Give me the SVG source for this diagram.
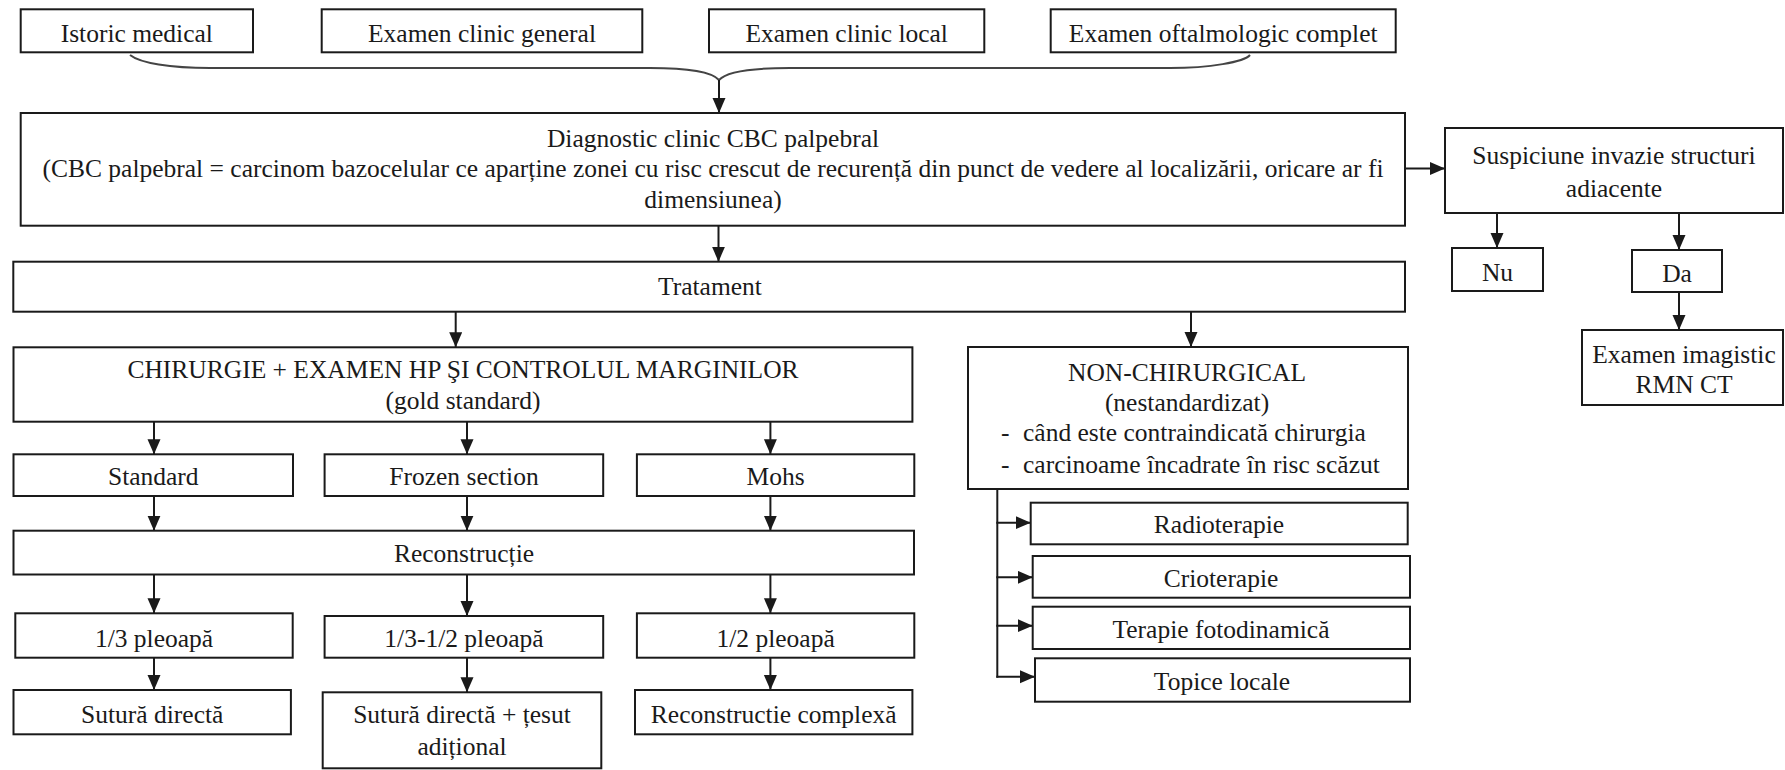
<svg xmlns="http://www.w3.org/2000/svg" width="1785" height="770" viewBox="0 0 1785 770">
<style>
.box{fill:#fff;stroke:#1a1a1a;stroke-width:2}
.t{font-family:"Liberation Serif","Times New Roman",serif;font-size:25.5px;fill:#1a1a1a;text-anchor:middle}
.tl{font-family:"Liberation Serif","Times New Roman",serif;font-size:25.5px;fill:#1a1a1a;text-anchor:start}
.c{stroke:#1a1a1a;stroke-width:2;fill:none}
.a{stroke:#1a1a1a;stroke-width:2;fill:none;marker-end:url(#ah)}
.brace{stroke:#444;stroke-width:2;fill:none}
</style>
<defs>
<marker id="ah" markerUnits="userSpaceOnUse" markerWidth="16" markerHeight="14" refX="15" refY="6.5" orient="auto">
<path d="M0,0 L15,6.5 L0,13 z" fill="#1a1a1a"/>
</marker>
</defs>
<rect x="0" y="0" width="1785" height="770" fill="#fff"/>

<g id="connectors">
<path class="brace" d="M130,55 C140,63 170,68 210,68 L650,68 C690,68 712,72 719,80 C726,72 748,68 790,68 L1170,68 C1210,68 1244,62 1250,55"/>
<line class="a" x1="719" y1="80" x2="719" y2="113"/>
<line class="a" x1="1405" y1="168.5" x2="1445" y2="168.5"/>
<line class="a" x1="718.5" y1="225.7" x2="718.5" y2="261.7"/>
<line class="a" x1="455.7" y1="311.7" x2="455.7" y2="347.3"/>
<line class="a" x1="1191" y1="311.7" x2="1191" y2="347"/>
<line class="a" x1="1497" y1="213" x2="1497" y2="248"/>
<line class="a" x1="1679" y1="213" x2="1679" y2="250"/>
<line class="a" x1="1679" y1="292" x2="1679" y2="330"/>
<line class="a" x1="154" y1="421.7" x2="154" y2="454.3"/>
<line class="a" x1="467" y1="421.7" x2="467" y2="454.3"/>
<line class="a" x1="770.4" y1="421.7" x2="770.4" y2="454.3"/>
<line class="a" x1="154" y1="496" x2="154" y2="530.7"/>
<line class="a" x1="467" y1="496" x2="467" y2="530.7"/>
<line class="a" x1="770.4" y1="496" x2="770.4" y2="530.7"/>
<line class="a" x1="154" y1="574.5" x2="154" y2="613.3"/>
<line class="a" x1="467" y1="574.5" x2="467" y2="616"/>
<line class="a" x1="770.4" y1="574.5" x2="770.4" y2="613.3"/>
<line class="a" x1="154" y1="657.7" x2="154" y2="690"/>
<line class="a" x1="467" y1="657.7" x2="467" y2="692.3"/>
<line class="a" x1="770.4" y1="657.7" x2="770.4" y2="690"/>
<line class="c" x1="997.3" y1="489" x2="997.3" y2="677.7"/>
<line class="a" x1="996.3" y1="522.7" x2="1030.7" y2="522.7"/>
<line class="a" x1="996.3" y1="577.3" x2="1032.7" y2="577.3"/>
<line class="a" x1="996.3" y1="625.7" x2="1032.7" y2="625.7"/>
<line class="a" x1="996.3" y1="676.7" x2="1035" y2="676.7"/>
</g>

<g id="n_istoric"><rect class="box" x="20.7" y="9.3" width="232.3" height="43"/><text class="t" x="136.8" y="41.5">Istoric medical</text></g>
<g id="n_ecg"><rect class="box" x="321.7" y="9.3" width="320.6" height="43"/><text class="t" x="482" y="41.5">Examen clinic general</text></g>
<g id="n_ecl"><rect class="box" x="709" y="9.3" width="275.3" height="43"/><text class="t" x="846.7" y="41.5">Examen clinic local</text></g>
<g id="n_eoc"><rect class="box" x="1050.7" y="9.3" width="345" height="43"/><text class="t" x="1223.2" y="41.5">Examen oftalmologic complet</text></g>

<g id="n_diag"><rect class="box" x="20.7" y="113" width="1384.3" height="112.7"/>
<text class="t" x="713" y="146.7">Diagnostic clinic CBC palpebral</text>
<text class="t" x="713" y="176.7">(CBC palpebral = carcinom bazocelular ce aparține zonei cu risc crescut de recurență din punct de vedere al localizării, oricare ar fi</text>
<text class="t" x="713" y="208">dimensiunea)</text></g>

<g id="n_susp"><rect class="box" x="1445" y="128" width="338" height="85"/>
<text class="t" x="1614" y="164">Suspiciune invazie structuri</text>
<text class="t" x="1614" y="196.7">adiacente</text></g>

<g id="n_trat"><rect class="box" x="13.3" y="261.7" width="1391.7" height="50"/><text class="t" x="710" y="295">Tratament</text></g>

<g id="n_nu"><rect class="box" x="1452" y="248" width="91" height="43"/><text class="t" x="1497.5" y="280.5">Nu</text></g>
<g id="n_da"><rect class="box" x="1632" y="250" width="90" height="42"/><text class="t" x="1677" y="281.5">Da</text></g>
<g id="n_img"><rect class="box" x="1582" y="330" width="201" height="75"/>
<text class="t" x="1684" y="363">Examen imagistic</text>
<text class="t" x="1684" y="393">RMN CT</text></g>

<g id="n_chir"><rect class="box" x="13.5" y="347.3" width="898.9" height="74.4"/>
<text class="t" x="463" y="378.3">CHIRURGIE + EXAMEN HP ŞI CONTROLUL MARGINILOR</text>
<text class="t" x="463" y="408.5">(gold standard)</text></g>

<g id="n_non"><rect class="box" x="968" y="347" width="440" height="142"/>
<text class="t" x="1187" y="380.7">NON-CHIRURGICAL</text>
<text class="t" x="1187" y="411">(nestandardizat)</text>
<text class="tl" y="440.7"><tspan x="1001">-</tspan><tspan x="1023">când este contraindicată chirurgia</tspan></text>
<text class="tl" y="472.7"><tspan x="1001">-</tspan><tspan x="1023">carcinoame încadrate în risc scăzut</tspan></text></g>

<g id="n_std"><rect class="box" x="13.5" y="454.3" width="279.5" height="41.7"/><text class="t" x="153.3" y="485">Standard</text></g>
<g id="n_frozen"><rect class="box" x="324.6" y="454.3" width="278.6" height="41.7"/><text class="t" x="464" y="485">Frozen section</text></g>
<g id="n_mohs"><rect class="box" x="636.9" y="454.3" width="277.4" height="41.7"/><text class="t" x="775.6" y="485">Mohs</text></g>

<g id="n_recon"><rect class="box" x="13.5" y="530.7" width="900.5" height="43.8"/><text class="t" x="464" y="561.7">Reconstrucție</text></g>

<g id="n_13"><rect class="box" x="15.3" y="613.3" width="277.4" height="44.4"/><text class="t" x="154" y="646.7">1/3 pleoapă</text></g>
<g id="n_1312"><rect class="box" x="324.6" y="616" width="278.6" height="41.7"/><text class="t" x="464" y="646.7">1/3-1/2 pleoapă</text></g>
<g id="n_12"><rect class="box" x="636.9" y="613.3" width="277.4" height="44.4"/><text class="t" x="775.6" y="646.7">1/2 pleoapă</text></g>

<g id="n_sut"><rect class="box" x="13.5" y="690" width="277.4" height="44.3"/><text class="t" x="152.2" y="722.7">Sutură directă</text></g>
<g id="n_sutt"><rect class="box" x="322.7" y="692.3" width="278.6" height="76"/>
<text class="t" x="462" y="723.3">Sutură directă + țesut</text>
<text class="t" x="462" y="755">adițional</text></g>
<g id="n_rc"><rect class="box" x="635" y="690" width="277.4" height="44.3"/><text class="t" x="773.7" y="722.7">Reconstructie complexă</text></g>

<g id="n_radio"><rect class="box" x="1030.7" y="502.7" width="377" height="41.6"/><text class="t" x="1219" y="533.3">Radioterapie</text></g>
<g id="n_crio"><rect class="box" x="1032.7" y="556" width="377.3" height="41.7"/><text class="t" x="1221" y="586.7">Crioterapie</text></g>
<g id="n_foto"><rect class="box" x="1032.7" y="606.7" width="377.3" height="42.3"/><text class="t" x="1221" y="638">Terapie fotodinamică</text></g>
<g id="n_topice"><rect class="box" x="1035" y="658.3" width="375" height="43.4"/><text class="t" x="1222" y="690">Topice locale</text></g>
</svg>
